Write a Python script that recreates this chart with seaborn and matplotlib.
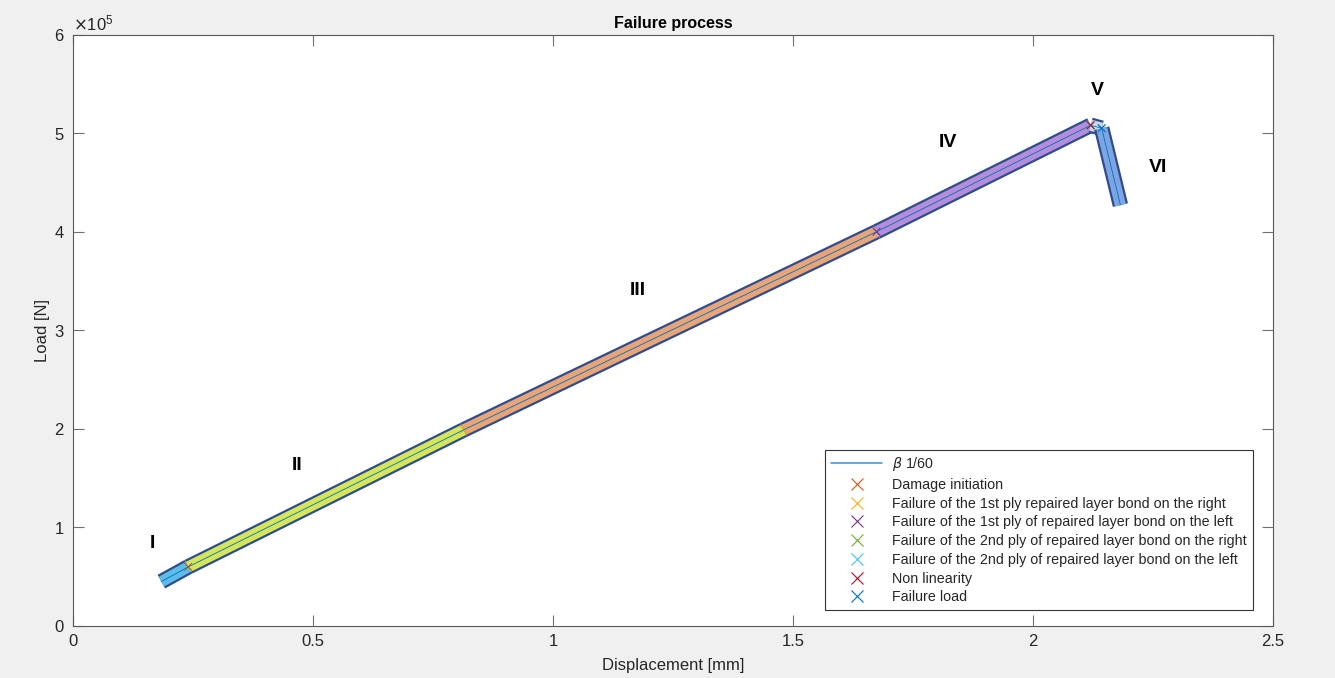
import numpy as np
import pandas as pd
import matplotlib
matplotlib.use("Agg")
import matplotlib.pyplot as plt
import matplotlib.patheffects as pe
from matplotlib.lines import Line2D
from matplotlib.ticker import ScalarFormatter
import seaborn as sns

# =====================
# DATA
# =====================
disp = [0.184, 0.240, 0.814, 1.674, 2.120, 2.143, 2.182]
load = [0.45e5, 0.60e5, 1.99e5, 4.00e5, 5.08e5, 5.05e5, 4.27e5]

stage_names = ["I", "II", "III", "IV", "V", "VI"]
stage_colors = ["#5cbdea", "#d6e65a", "#e9a478", "#b58ddb", "#cdd8ec", "#7ea5e3"]
stage_lbl_x = [0.165, 0.467, 1.177, 1.822, 2.135, 2.260]
stage_lbl_y = [0.84e5, 1.63e5, 3.40e5, 4.91e5, 5.43e5, 4.65e5]

event_names = [
    "Damage initiation",
    "Failure of the 1st ply repaired layer bond on the right",
    "Failure of the 1st ply of repaired layer bond on the left",
    "Failure of the 2nd ply of repaired layer bond on the right",
    "Failure of the 2nd ply of repaired layer bond on the left",
    "Non linearity",
    "Failure load",
]
event_x = [0.240, 0.814, 1.674, 2.120, 2.143, 2.120, 2.143]
event_y = [0.60e5, 1.99e5, 4.00e5, 5.08e5, 5.05e5, 5.08e5, 5.05e5]
event_colors = ["#D95319", "#EDB120", "#7E2F8E", "#77AC30", "#4DBEEE", "#A2142F", "#0072BD"]

# =====================
# PLOT
# =====================
sns.set_theme(style="ticks")
plt.rcParams["font.family"] = ["Liberation Sans", "DejaVu Sans"]
axcol = "#262626"

fig = plt.figure(figsize=(13.35, 6.78), dpi=100, facecolor="#f0f0f0")
ax = fig.add_axes([0.0547, 0.0767, 0.8989, 0.8723])
ax.set_facecolor("white")

curve = pd.DataFrame({"disp": disp, "load": load})

# highlighted stages as outlined bands
for i, name in enumerate(stage_names):
    seg = curve.iloc[i:i + 2]
    sns.lineplot(data=seg, x="disp", y="load", ax=ax, color=stage_colors[i],
                 lw=8.0, sort=False, estimator=None, zorder=2,
                 solid_capstyle="butt",
                 path_effects=[pe.Stroke(linewidth=11.2, foreground="#2f4c8c",
                                         capstyle="butt"), pe.Normal()])
    ax.text(stage_lbl_x[i], stage_lbl_y[i], name, fontsize=14, fontweight="bold",
            ha="center", va="center", color="black")

ev = pd.DataFrame({"disp": event_x, "load": event_y, "event": event_names})
sns.scatterplot(data=ev, x="disp", y="load", hue="event", palette=event_colors,
                marker="x", s=30, linewidth=0.8, ax=ax, legend=False, zorder=3)

sns.lineplot(data=curve, x="disp", y="load", ax=ax, color="#0072BD", lw=0.6,
             sort=False, estimator=None, zorder=4)

ax.set_xlim(0, 2.5)
ax.set_ylim(0, 6e5)
ax.set_xticks([0, 0.5, 1, 1.5, 2, 2.5])
ax.set_xticklabels(["0", "0.5", "1", "1.5", "2", "2.5"])
ax.set_yticks(np.arange(0, 7e5, 1e5))
fmt = ScalarFormatter(useMathText=True)
fmt.set_powerlimits((0, 0))
ax.yaxis.set_major_formatter(fmt)
ax.yaxis.get_offset_text().set_fontsize(12)
ax.yaxis.get_offset_text().set_color("#404040")

ax.tick_params(direction="in", length=8, width=0.8, colors="#707070",
               labelcolor=axcol, labelsize=12, top=True, right=True, pad=6)
for sp in ax.spines.values():
    sp.set_color("#5a5a5a")
    sp.set_linewidth(0.8)

ax.set_xlabel("Displacement [mm]", fontsize=12, color=axcol, labelpad=6)
ax.set_ylabel("Load [N]", fontsize=12, color=axcol, labelpad=3)
ax.set_title("Failure process", fontsize=11.5, fontweight="bold", color="black", pad=5)

handles = [Line2D([], [], color="#3a8fd0", lw=1.1)]
handles += [Line2D([], [], color=c, marker="x", ls="none", markersize=8,
                   markeredgewidth=0.8) for c in event_colors]
labels = [r"$\beta$ 1/60"] + event_names
leg = ax.legend(handles, labels, loc="lower right", bbox_to_anchor=(0.983, 0.027),
                fontsize=10.3, frameon=True, fancybox=False, framealpha=1,
                edgecolor="#333333", handlelength=3.6, handletextpad=0.7,
                labelspacing=0.33, borderpad=0.4, borderaxespad=0)
leg.get_frame().set_linewidth(0.8)

fig.savefig("out.png", dpi=100, facecolor=fig.get_facecolor())
